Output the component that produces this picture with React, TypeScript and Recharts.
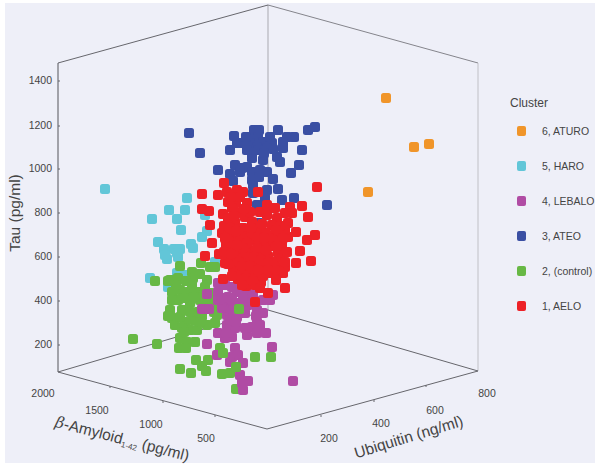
import { ScatterChart, Scatter, XAxis, YAxis, ReferenceLine, Legend } from "recharts";

type Pt = [number, number];

// Positions on the projected plane of the 3D cube
const ATURO: Pt[] = [[386, 98], [414, 147], [429, 144], [368, 192]];

const HARO: Pt[] = [
  [105, 189], [187, 198], [169, 210], [185, 210], [152, 219], [177, 219], [181, 230], [205, 215], [207, 231], [202, 237],
  [158, 242], [164, 249], [174, 249], [180, 249], [191, 244], [193, 248], [167, 259], [178, 257], [150, 278], [168, 287],
  [177, 273], [185, 275], [165, 255], [177, 253], [215, 262],
];

const ATEO: Pt[] = [
  [189, 133], [200, 153], [218, 170], [234, 136], [230, 150], [237, 143], [243, 143], [254, 130], [259, 130], [252, 137],
  [258, 137], [263, 142], [272, 143], [278, 130], [287, 137], [294, 137], [283, 142], [283, 148], [308, 130], [315, 127],
  [302, 150], [299, 165], [291, 173], [280, 162], [277, 157], [273, 149], [263, 160], [250, 143], [257, 147], [252, 152],
  [258, 150], [267, 148], [252, 158], [235, 165], [242, 168], [247, 167], [252, 172], [260, 170], [267, 172], [230, 174],
  [233, 181], [252, 180], [253, 185], [273, 179], [278, 189], [267, 190], [253, 193], [265, 198], [257, 205], [282, 200],
  [294, 198], [273, 208], [327, 205], [259, 223], [247, 150], [264, 153], [240, 172], [259, 177], [246, 137], [270, 137],
];

const CONTROL: Pt[] = [
  [133, 339], [157, 344], [155, 281], [180, 266], [201, 263], [210, 267], [215, 267], [192, 272], [193, 278], [170, 280],
  [178, 278], [207, 280], [172, 292], [180, 290], [188, 292], [198, 292], [178, 300], [190, 303], [200, 300], [210, 293],
  [217, 305], [217, 315], [170, 310], [172, 318], [175, 325], [185, 322], [193, 320], [207, 325], [215, 323], [190, 330],
  [180, 338], [187, 342], [195, 342], [179, 348], [196, 360], [208, 360], [202, 366], [206, 371], [180, 369], [191, 373],
  [220, 348], [182, 310], [180, 317], [185, 310], [192, 285], [205, 287], [176, 285], [198, 312], [208, 303], [190, 312],
  [236, 389], [168, 281], [184, 298], [172, 300], [194, 297], [204, 295], [202, 316], [182, 328], [197, 330], [212, 298],
  [184, 332], [200, 322], [214, 312], [168, 316], [186, 281], [200, 274], [186, 348],
];

const LEBALO: Pt[] = [
  [207, 294], [202, 309], [209, 309], [218, 283], [218, 292], [232, 287], [228, 297], [237, 292], [247, 293], [253, 295],
  [263, 300], [273, 295], [270, 300], [228, 305], [238, 303], [248, 305], [257, 310], [263, 313], [227, 315], [237, 317],
  [245, 313], [257, 322], [227, 325], [235, 328], [252, 327], [260, 325], [218, 333], [225, 338], [232, 337], [247, 335],
  [257, 333], [266, 333], [207, 344], [272, 347], [235, 348], [217, 355], [232, 357], [238, 355], [243, 363], [230, 362],
  [240, 375], [248, 381], [242, 383], [243, 390], [293, 381], [233, 310], [240, 283], [225, 285], [232, 300], [243, 298],
  [222, 308], [240, 310], [230, 320], [252, 302], [256, 316], [226, 333], [222, 298], [245, 328], [236, 322], [218, 300],
];

// green points lying in front of the magenta ones
const CONTROL_FRONT: Pt[] = [[239, 309], [223, 353], [255, 357], [271, 357], [222, 374], [230, 373], [236, 367]];

const AELO: Pt[] = [
  [202, 194], [218, 195], [224, 183], [227, 192], [237, 190], [243, 192], [228, 202], [202, 209], [209, 211], [223, 214],
  [210, 225], [224, 226], [222, 233], [228, 235], [212, 243], [205, 256], [219, 254], [225, 263], [317, 187], [302, 206],
  [308, 217], [290, 207], [285, 213], [288, 223], [296, 232], [315, 235], [307, 240], [288, 237], [300, 251], [311, 261],
  [296, 263], [283, 267], [283, 273], [285, 267], [285, 288], [268, 293], [255, 302], [246, 286], [223, 279], [261, 282],
  [255, 285], [270, 273], [247, 203], [237, 213], [245, 217], [258, 192], [267, 215], [277, 218], [272, 225], [235, 222],
  [243, 228], [252, 222], [258, 230], [266, 233], [276, 236], [282, 245], [233, 237], [240, 241], [248, 236], [255, 240],
  [263, 244], [271, 246], [278, 253], [230, 247], [237, 251], [245, 247], [252, 251], [260, 254], [268, 256], [274, 262],
  [228, 257], [235, 260], [243, 258], [250, 262], [257, 264], [265, 266], [233, 268], [240, 271], [248, 270], [255, 274],
  [263, 276], [238, 279], [246, 278], [253, 281], [230, 228], [260, 212], [275, 208], [236, 203], [250, 212], [228, 218],
  [267, 205], [285, 230], [280, 226], [226, 244], [224, 252], [232, 276], [279, 271], [243, 238], [252, 233], [262, 224],
  [232, 208], [240, 197], [231, 197], [244, 209], [229, 241], [236, 231], [247, 243], [257, 248], [266, 250], [273, 240],
  [239, 262], [246, 253], [254, 257], [261, 260], [268, 263], [275, 270], [242, 266], [250, 266], [258, 270], [228, 264],
  [282, 258], [276, 230], [283, 238], [269, 238], [251, 228], [258, 237], [264, 238], [277, 246], [243, 248], [231, 254],
  [237, 245], [225, 238], [234, 216], [287, 252], [268, 270], [260, 288], [276, 280], [242, 285], [285, 262], [292, 213],
];

const TAU_TICKS: [string, number][] = [["1400", 81], ["1200", 126], ["1000", 169], ["800", 213], ["600", 257], ["400", 301], ["200", 345]];
const AMYLOID_TICKS: [string, Pt][] = [["2000", [43, 394]], ["1500", [97, 411]], ["1000", [151, 425]], ["500", [206, 439]]];
const UBIQUITIN_TICKS: [string, Pt][] = [["200", [329, 439]], ["400", [381, 424]], ["600", [435, 411]], ["800", [487, 394]]];

// cube edges: from, to, colour
const EDGES: [Pt, Pt, string][] = [
  [[268, 5], [268, 310], "#a9a9b0"],
  [[268, 5], [478, 63], "#85858c"],
  [[58, 63], [268, 5], "#66666c"],
  [[478, 63], [478, 371], "#c0c0c6"],
  [[58, 372], [268, 310], "#66666c"],
  [[268, 310], [478, 371], "#66666c"],
  [[58, 63], [58, 372], "#55555a"],
  [[58, 372], [267, 429], "#66666c"],
  [[267, 429], [478, 371], "#66666c"],
];

// little notches along the bottom edges and the Tau edge
const FLOOR_NOTCHES: Pt[] = [[110, 386], [163, 401], [215, 415], [321, 415], [374, 400], [426, 385]];
const TAU_NOTCHES = [81, 126, 169, 213, 257, 301, 345];

const SERIES = [
  { name: "6, ATURO", color: "#f0952a" },
  { name: "5, HARO", color: "#62c6d8" },
  { name: "4, LEBALO", color: "#b04ca4" },
  { name: "3, ATEO", color: "#3a4fa3" },
  { name: "2, (control)", color: "#67b845" },
  { name: "1, AELO", color: "#ed2127" },
];

// back to front
const DRAW_ORDER = [
  { key: "orange", color: "#f0952a", points: ATURO },
  { key: "cyan", color: "#62c6d8", points: HARO },
  { key: "blue", color: "#3a4fa3", points: ATEO },
  { key: "green", color: "#67b845", points: CONTROL },
  { key: "magenta", color: "#b04ca4", points: LEBALO },
  { key: "greenFront", color: "#67b845", points: CONTROL_FRONT },
  { key: "red", color: "#ed2127", points: AELO },
];

const FONT = "'Liberation Sans', Arial, sans-serif";

const toRows = (pts: Pt[]) => pts.map(([x, y]) => ({ x, y }));

function Marker(props: any) {
  return <rect x={props.cx - 5} y={props.cy - 5} width={10} height={10} rx={2.5} fill={props.fill} />;
}

function ClusterLegend() {
  return (
    <div style={{ fontFamily: FONT, color: "#444", width: 95 }}>
      <div style={{ fontSize: 12, height: 17.5, lineHeight: "14px", marginLeft: 1 }}>Cluster</div>
      {SERIES.map((s) => (
        <div key={s.name} style={{ display: "flex", alignItems: "center", height: 35, fontSize: 10.5 }}>
          <span style={{ width: 9, height: 10, borderRadius: 2, background: s.color, marginLeft: 8, marginRight: 16 }} />
          {s.name}
        </div>
      ))}
    </div>
  );
}

export default function App() {
  return (
    <div style={{ position: "absolute", left: 0, top: 0, width: 600, height: 467, background: "#fff" }}>
      <div style={{ position: "absolute", left: 5, top: 3, width: 590, height: 460, background: "#eeeff8" }} />
      <ScatterChart width={600} height={467} margin={{ top: 0, right: 0, bottom: 0, left: 0 }} style={{ position: "absolute", left: 0, top: 0 }}>
        <XAxis type="number" dataKey="x" domain={[0, 600]} hide />
        <YAxis type="number" dataKey="y" domain={[0, 467]} reversed hide />
        {EDGES.map(([a, b, color], i) => (
          <ReferenceLine key={i} segment={[{ x: a[0], y: a[1] }, { x: b[0], y: b[1] }]} stroke={color} strokeWidth={1} />
        ))}
        {FLOOR_NOTCHES.map(([x, y]) => (
          <ReferenceLine key={x} segment={[{ x, y }, { x, y: y + 2 }]} stroke="#66666c" />
        ))}
        {TAU_NOTCHES.map((y) => (
          <ReferenceLine key={y} segment={[{ x: 58, y }, { x: 60, y }]} stroke="#66666c" />
        ))}
        {DRAW_ORDER.map((s) => (
          <Scatter key={s.key} name={s.key} data={toRows(s.points)} fill={s.color} shape={Marker} isAnimationActive={false} legendType="none" />
        ))}
        <Legend content={<ClusterLegend />} layout="horizontal" align="center" verticalAlign="middle" wrapperStyle={{ left: 509, top: 96, width: 95 }} />
        <g fontFamily={FONT} fill="#444">
          {TAU_TICKS.map(([t, y]) => (
            <text key={t} x={52} y={y} fontSize={10.5} textAnchor="end" dominantBaseline="middle">{t}</text>
          ))}
          {AMYLOID_TICKS.concat(UBIQUITIN_TICKS).map(([t, p]) => (
            <text key={t + p[0]} x={p[0]} y={p[1]} fontSize={10.5} textAnchor="middle" dominantBaseline="middle">{t}</text>
          ))}
          <text x={16} y={213} fontSize={15.5} textAnchor="middle" dominantBaseline="middle" transform="rotate(-90 16 213)">Tau (pg/ml)</text>
          <text x={122} y={440} fontSize={15.5} textAnchor="middle" dominantBaseline="middle" transform="rotate(14.5 122 440)">
            <tspan fontFamily="'DejaVu Serif', serif" fontStyle="italic">β</tspan>-Amyloid<tspan fontSize={8} dy={5}>1-42</tspan><tspan dy={-5}> (pg/ml)</tspan>
          </text>
          <text x={409} y={438} fontSize={15.5} textAnchor="middle" dominantBaseline="middle" transform="rotate(-17 409 438)">Ubiquitin (ng/ml)</text>
        </g>
      </ScatterChart>
    </div>
  );
}
